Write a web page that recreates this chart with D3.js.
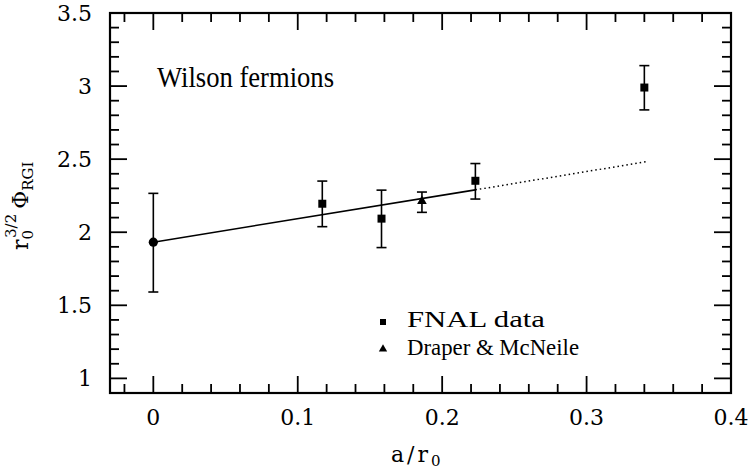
<!DOCTYPE html>
<html><head><meta charset="utf-8">
<script src="https://cdn.jsdelivr.net/npm/d3@7"></script>
<style>body{margin:0;background:#fff}svg{display:block}</style>
</head><body>
<script>
// ---- data ----
const fnalX = [0.117, 0.158, 0.223, 0.340];
const fnalY = [2.195, 2.093, 2.352, 2.990];
const fnalLo = [2.038, 1.895, 2.227, 2.837];
const fnalHi = [2.350, 2.288, 2.470, 3.140];
const draperX = [0.186];
const draperY = [2.213];
const draperLo = [2.136];
const draperHi = [2.275];
const extrapX = [0];
const extrapY = [1.932];
const extrapLo = [1.591];
const extrapHi = [2.266];
const fitSolidX = [0, 0.223];
const fitSolidY = [1.932, 2.290];
const fitDotX = [0.223, 0.341];
const fitDotY = [2.290, 2.482];
const xTicks = [0, 0.1, 0.2, 0.3, 0.4];
const xTickLabels = ["0", "0.1", "0.2", "0.3", "0.4"];
const yTicks = [1, 1.5, 2, 2.5, 3, 3.5];
const yTickLabels = ["1", "1.5", "2", "2.5", "3", "3.5"];
const legendLabels = ["FNAL data", "Draper & McNeile"];

const W = 752, H = 471;
const L = 110, R = 731, T = 13, B = 393;
const x = d3.scaleLinear().domain([-0.03, 0.4]).range([L, R]);
const y = d3.scaleLinear().domain([0.9, 3.5]).range([B, T]);

const svg = d3.select("body").append("svg").attr("width", W).attr("height", H);
const tickFont = "'DejaVu Serif', serif";

// minor/major ticks
const xMinor = d3.range(-0.02, 0.4001, 0.02).filter(v => Math.abs(Math.round(v * 10) - v * 10) > 1e-6);
const yMinor = d3.range(1.0, 3.5001, 0.1).filter(v => Math.abs(Math.round(v * 2) - v * 2) > 1e-6);
const g = svg.append("g").attr("stroke", "#000").attr("stroke-width", 1.8);
const MAJ = 17, MIN = 9;
xTicks.forEach(v => {
  g.append("line").attr("x1", x(v)).attr("x2", x(v)).attr("y1", B).attr("y2", B - MAJ);
  g.append("line").attr("x1", x(v)).attr("x2", x(v)).attr("y1", T).attr("y2", T + MAJ);
});
xMinor.forEach(v => {
  g.append("line").attr("x1", x(v)).attr("x2", x(v)).attr("y1", B).attr("y2", B - MIN);
  g.append("line").attr("x1", x(v)).attr("x2", x(v)).attr("y1", T).attr("y2", T + MIN);
});
yTicks.forEach(v => {
  g.append("line").attr("y1", y(v)).attr("y2", y(v)).attr("x1", L).attr("x2", L + MAJ);
  g.append("line").attr("y1", y(v)).attr("y2", y(v)).attr("x1", R).attr("x2", R - MAJ);
});
yMinor.forEach(v => {
  g.append("line").attr("y1", y(v)).attr("y2", y(v)).attr("x1", L).attr("x2", L + MIN);
  g.append("line").attr("y1", y(v)).attr("y2", y(v)).attr("x1", R).attr("x2", R - MIN);
});
svg.append("rect").attr("x", L).attr("y", T).attr("width", R - L).attr("height", B - T)
  .attr("fill", "none").attr("stroke", "#000").attr("stroke-width", 2.2);

// tick labels
svg.append("g").selectAll("text").data(xTicks).join("text")
  .attr("x", d => x(d)).attr("y", 425).attr("text-anchor", "middle")
  .attr("font-family", tickFont).attr("font-size", 22)
  .text((d, i) => xTickLabels[i]);
svg.append("g").selectAll("text").data(yTicks).join("text")
  .attr("x", 92).attr("y", d => y(d)).attr("dy", "0.36em").attr("text-anchor", "end")
  .attr("font-family", tickFont).attr("font-size", 22)
  .text((d, i) => yTickLabels[i]);

// axis titles
const xl = svg.append("text").attr("x", 391).attr("y", 462)
  .attr("font-family", tickFont).attr("font-size", 22);
xl.append("tspan").attr("letter-spacing", 3).text("a/r");
xl.append("tspan").attr("font-size", 15).attr("dy", 4).text("0");

const yl = svg.append("text").attr("transform", "translate(28,250) rotate(-90)")
  .attr("font-family", tickFont).attr("font-size", 22);
yl.append("tspan").text("r");
yl.append("tspan").attr("font-size", 15).attr("dy", 5).text("0");
yl.append("tspan").attr("font-size", 15).attr("dx", -8).attr("dy", -17).text("3/2");
yl.append("tspan").attr("dy", 12).attr("dx", 5).text("Φ");
yl.append("tspan").attr("font-size", 15).attr("dy", 5).text("RGI");

// fit lines
const line = d3.line().x(d => x(d[0])).y(d => y(d[1]));
svg.append("path").datum(fitSolidX.map((v, i) => [v, fitSolidY[i]])).attr("d", line)
  .attr("fill", "none").attr("stroke", "#000").attr("stroke-width", 1.6);
svg.append("path").datum(fitDotX.map((v, i) => [v, fitDotY[i]])).attr("d", line)
  .attr("fill", "none").attr("stroke", "#000").attr("stroke-width", 1.5).attr("stroke-dasharray", "1.5,3");

// error bars
function errBars(xs, lo, hi) {
  const eg = svg.append("g").attr("stroke", "#000").attr("stroke-width", 1.6);
  xs.forEach((v, i) => {
    const cx = x(v);
    eg.append("line").attr("x1", cx).attr("x2", cx).attr("y1", y(lo[i])).attr("y2", y(hi[i]));
    eg.append("line").attr("x1", cx - 5).attr("x2", cx + 5).attr("y1", y(lo[i])).attr("y2", y(lo[i]));
    eg.append("line").attr("x1", cx - 5).attr("x2", cx + 5).attr("y1", y(hi[i])).attr("y2", y(hi[i]));
  });
}
errBars(extrapX, extrapLo, extrapHi);
errBars(fnalX, fnalLo, fnalHi);
errBars(draperX, draperLo, draperHi);

// markers
svg.append("g").selectAll("circle").data(extrapX).join("circle")
  .attr("cx", d => x(d)).attr("cy", (d, i) => y(extrapY[i])).attr("r", 4.6).attr("fill", "#000");
svg.append("g").selectAll("path").data(fnalX).join("path")
  .attr("d", d3.symbol(d3.symbolSquare, 64))
  .attr("transform", (d, i) => `translate(${x(d)},${y(fnalY[i])})`).attr("fill", "#000");
svg.append("g").selectAll("path").data(draperX).join("path")
  .attr("d", d3.symbol(d3.symbolTriangle, 40))
  .attr("transform", (d, i) => `translate(${x(d)},${y(draperY[i])})`).attr("fill", "#000");

// annotation
svg.append("text").attr("x", 157).attr("y", 87).attr("font-family", "'Liberation Serif', serif")
  .attr("font-size", 30).attr("textLength", 177).attr("lengthAdjust", "spacingAndGlyphs")
  .text("Wilson fermions");

// legend
svg.append("path").attr("d", d3.symbol(d3.symbolSquare, 36)).attr("transform", "translate(383,322)").attr("fill", "#000");
svg.append("path").attr("d", d3.symbol(d3.symbolTriangle, 30)).attr("transform", "translate(383,349)").attr("fill", "#000");
const legW = [138, 172];
[327, 355].forEach((yy, i) => {
  svg.append("text").attr("x", 407).attr("y", yy).attr("font-family", "'Liberation Serif', serif")
    .attr("font-size", 24).attr("textLength", legW[i]).attr("lengthAdjust", "spacingAndGlyphs")
    .text(legendLabels[i]);
});
</script>
</body></html>
